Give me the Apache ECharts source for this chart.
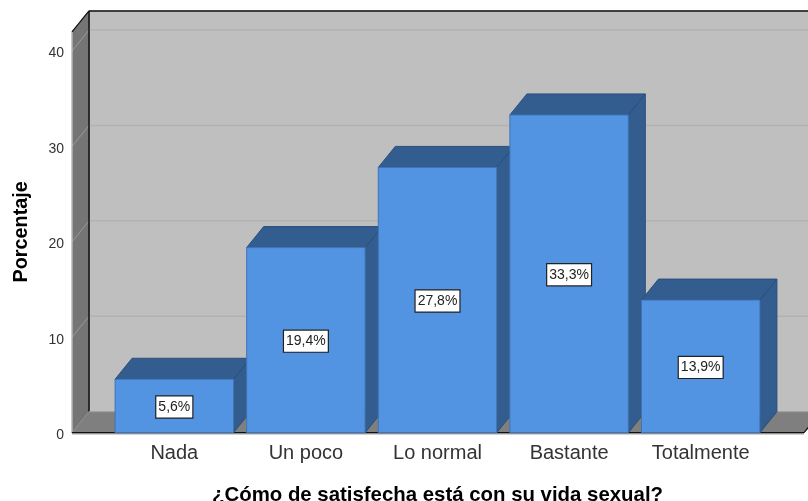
<!DOCTYPE html>
<html><head><meta charset="utf-8">
<style>html,body{margin:0;padding:0;background:#fff}#c{width:808px;height:501px}</style>
<script src="https://cdn.jsdelivr.net/npm/echarts@6/dist/echarts.min.js"></script>
</head><body><div id="c"></div>
<script>
const categories = ['Nada','Un poco','Lo normal','Bastante','Totalmente'];
const values = [5.6,19.4,27.8,33.3,13.9];
const valueLabels = ['5,6%','19,4%','27,8%','33,3%','13,9%'];
const yTicks = [0,10,20,30,40];
const yTop = 42;
const xTitle = '¿Cómo de satisfecha está con su vida sexual?';
const yTitle = 'Porcentaje';

const DX = 17, DY = -21, FONT = '"Liberation Sans", Arial, sans-serif';
const GRID_LEFT = 108.5, GRID_W = 658, FRONT_L = 72, FRONT_R = 804;

function poly(points, fill, stroke, w){
  return {type:'polygon', shape:{points}, style:{fill, stroke: stroke||fill, lineWidth:w==null?1:w}};
}
function line(x1,y1,x2,y2,stroke,w){
  return {type:'line', shape:{x1,y1,x2,y2}, style:{stroke, lineWidth:w||1}};
}
function renderWalls(params, api){
  const y0 = api.coord([0,0])[1], yT = api.coord([0,yTop])[1];
  const L = FRONT_L, R = FRONT_R, bL = L+DX, bR = R+DX;
  const ch = [
    poly([[bL,yT+DY],[bR,yT+DY],[bR,y0+DY],[bL,y0+DY]],'#bfbfbf'),
    poly([[L,yT],[bL,yT+DY],[bL,y0+DY],[L,y0]],'#757575'),
    poly([[L,y0],[bL,y0+DY],[bR,y0+DY],[R,y0]],'#7f7f7f')
  ];
  yTicks.slice(1).forEach(t=>{
    const y = api.coord([0,t])[1];
    ch.push(line(L,y,bL,y+DY,'#9a9a9a',1));
    ch.push(line(bL,y+DY,bR,y+DY,'#b2b2b2',1.5));
  });
  ch.push(line(L,yT,L,y0,'#d8d8d8',1));
  ch.push(line(L,yT,bL,yT+DY,'#111',1.2));
  ch.push(line(bL,yT+DY,bR,yT+DY,'#111',1.5));
  ch.push(line(bL,yT+DY,bL,y0+DY,'#111',1.5));
  ch.push(line(bL,y0+DY,L,y0,'#8f8f8f',1));
  ch.push(line(bL,y0+DY,bR,y0+DY,'#a5a5a5',1));
  ch.push(line(L,y0,R,y0,'#111',1.5));
  ch.push(line(L,y0+1.5,R,y0+1.5,'#bdbdbd',1));
  ch.push(line(R,y0,bR,y0+DY,'#111',1.2));
  return {type:'group', children:ch};
}
function renderBar(params, api){
  const i = api.value(0), v = api.value(1);
  const c = api.coord([i,v]), b = api.coord([i,0]);
  const hw = api.size([1,0])[0]*0.45, l = c[0]-hw, r = c[0]+hw, t = c[1], y0 = b[1];
  return {type:'group', children:[
    poly([[r,t],[r+DX,t+DY],[r+DX,y0+DY],[r,y0]],'#335c8f','#2b4f7c'),
    poly([[l,t],[l+DX,t+DY],[r+DX,t+DY],[r,t]],'#335c8f','#2b4f7c'),
    poly([[l,t],[r,t],[r,y0],[l,y0]],'#5294e2','#3f74b5'),
    {type:'text', x:c[0], y:(t+y0)/2+1, style:{
      text:valueLabels[params.dataIndex], x:0, y:0, align:'center', verticalAlign:'middle',
      fill:'#222', font:'14px '+FONT,
      backgroundColor:'#fff', borderColor:'#222', borderWidth:1.2, padding:[4,2,3,2]
    }}
  ]};
}
const chart = echarts.init(document.getElementById('c'),null,{renderer:'canvas'});
chart.setOption({
  animation:false,
  backgroundColor:'#fff',
  grid:{left:GRID_LEFT, width:GRID_W, top:51, height:381.7, outerBoundsMode:'none', containLabel:false},
  xAxis:{type:'category', data:categories,
    axisLine:{show:false}, axisTick:{show:false}, splitLine:{show:false},
    axisLabel:{color:'#333', fontFamily:FONT, fontSize:20, margin:11},
    name:xTitle, nameLocation:'middle', nameGap:53,
    nameTextStyle:{color:'#000', fontFamily:FONT, fontSize:20.4, fontWeight:'bold'}},
  yAxis:{type:'value', min:0, max:40, interval:10, offset:36.5,
    axisLine:{show:false}, axisTick:{show:false}, splitLine:{show:false},
    axisLabel:{margin:8, formatter:v=>'{a|'+v+'}',
      rich:{a:{color:'#333', fontFamily:FONT, fontSize:14, padding:[5,0,0,0]}}},
    name:yTitle, nameLocation:'middle', nameGap:40, nameRotate:90,
    nameTextStyle:{color:'#000', fontFamily:FONT, fontSize:19.8, fontWeight:'bold', padding:[0,0,0,20]}},
  series:[
    {type:'custom', silent:true, z:1, data:[[0,0]], renderItem:renderWalls},
    {type:'custom', z:2, data:values.map((v,i)=>[i,v]), encode:{x:0,y:1}, renderItem:renderBar}
  ]
});
</script></body></html>
